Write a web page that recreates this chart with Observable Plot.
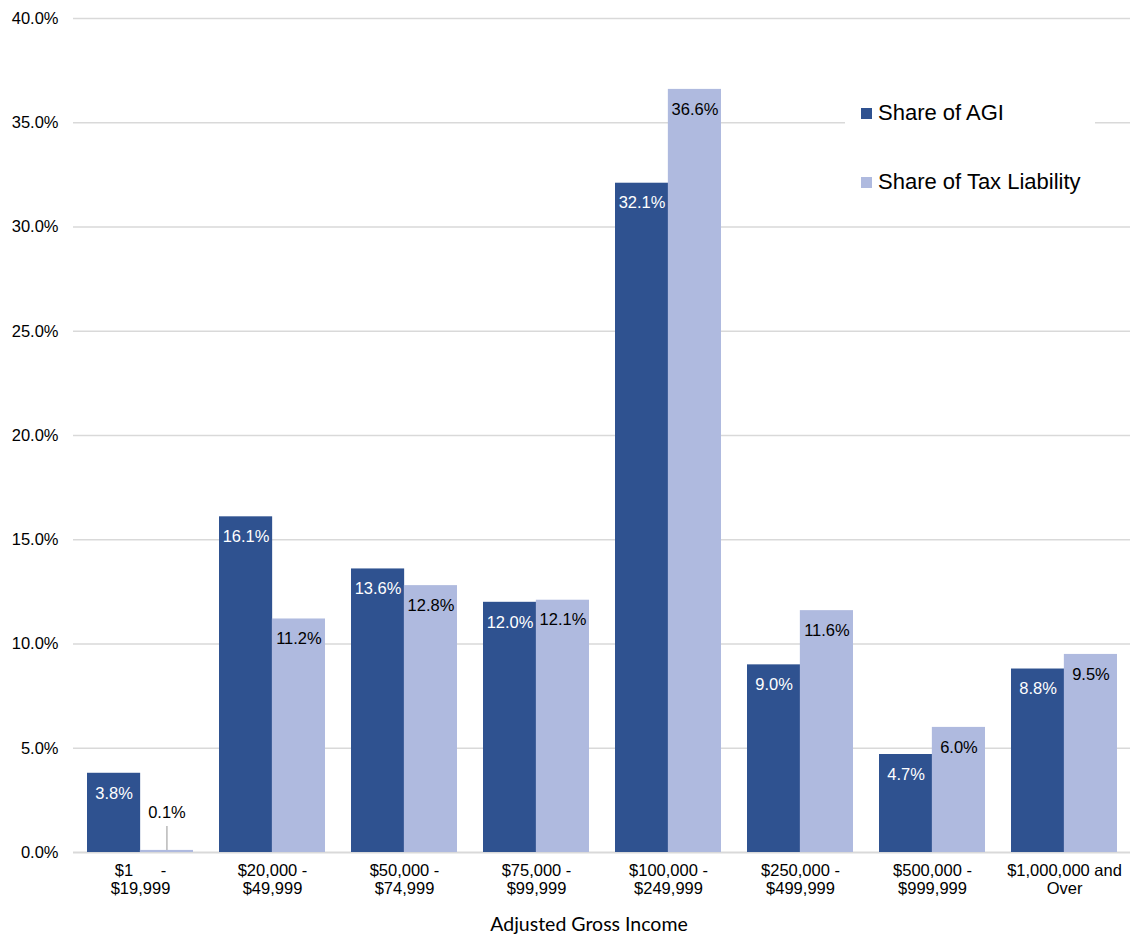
<!DOCTYPE html>
<html>
<head>
<meta charset="utf-8">
<script src="https://cdn.jsdelivr.net/npm/d3@7"></script>
<script src="https://cdn.jsdelivr.net/npm/@observablehq/plot@0.6"></script>
<style>
  body { margin: 0; background: #fff; font-family: "Liberation Sans", Arial, sans-serif; }
  #wrap { position: relative; width: 1135px; height: 934px; }
  #legend { position: absolute; left: 845px; top: 92px; width: 250px; height: 112px; background: #fff; }
  .item { position: absolute; left: 16px; font-size: 22px; color: #000; white-space: nowrap; }
  .sw { display: inline-block; width: 11px; height: 11px; margin-right: 6px; vertical-align: 1px; }
</style>
</head>
<body>
<div id="wrap"></div>
<script>
const categories = ["$1 - $19,999", "$20,000 - $49,999", "$50,000 - $74,999", "$75,000 - $99,999",
  "$100,000 - $249,999", "$250,000 - $499,999", "$500,000 - $999,999", "$1,000,000 and Over"];
const tickLabels = ["$1\u00a0\u00a0\u00a0\u00a0\u00a0\u00a0-\n$19,999", "$20,000 -\n$49,999", "$50,000 -\n$74,999",
  "$75,000 -\n$99,999", "$100,000 -\n$249,999", "$250,000 -\n$499,999", "$500,000 -\n$999,999", "$1,000,000 and\nOver"];
const shareAGI = [3.8, 16.1, 13.6, 12.0, 32.1, 9.0, 4.7, 8.8];
const shareTax = [0.1, 11.2, 12.8, 12.1, 36.6, 11.6, 6.0, 9.5];
const seriesNames = ["Share of AGI", "Share of Tax Liability"];
const yTicks = [0, 5, 10, 15, 20, 25, 30, 35, 40];
const colors = ["#2F5290", "#AFBADF"];

const data = categories.map((c, i) => ({cat: c, agi: shareAGI[i], tax: shareTax[i]}));
const fmt = v => v.toFixed(1) + "%";

const width = 1135, height = 934;
const mL = 73, mR = 5, mT = 18, mB = 82;
const pIn = 0.2, pOut = 0.1;
const step = (width - mL - mR) / (categories.length - pIn + 2 * pOut);
const band = step * (1 - pIn);

const chart = Plot.plot({
  width, height,
  marginLeft: mL, marginRight: mR, marginTop: mT, marginBottom: mB,
  style: {fontFamily: "'Liberation Sans', Arial, sans-serif", background: "#fff"},
  x: {domain: categories, paddingInner: pIn, paddingOuter: pOut, axis: null},
  y: {domain: [0, 40], axis: null},
  marks: [
    Plot.gridY(yTicks.filter(d => d > 0), {stroke: "#d9d9d9", strokeOpacity: 1, strokeWidth: 1.5}),
    Plot.ruleY([0], {stroke: "#d9d9d9", strokeWidth: 2}),
    Plot.axisY(yTicks, {tickSize: 0, tickPadding: 15, tickFormat: fmt, fontSize: 16.5, fill: "#000", label: null}),
    Plot.axisX({tickSize: 0, tickPadding: 10, fontSize: 16.5, fill: "#000", lineHeight: 1.12, label: null,
      tickFormat: d => tickLabels[categories.indexOf(d)]}),
    Plot.barY(data, {x: "cat", y: "agi", fill: colors[0], insetRight: band / 2}),
    Plot.barY(data, {x: "cat", y: "tax", fill: colors[1], insetLeft: band / 2}),
    Plot.text(data, {x: "cat", y: "agi", text: d => fmt(d.agi), dx: -band / 4, dy: 20, fill: "#fff", fontSize: 16.5}),
    Plot.text(data.filter(d => d.tax >= 1), {x: "cat", y: "tax", text: d => fmt(d.tax), dx: band / 4, dy: 20, fill: "#000", fontSize: 16.5}),
    Plot.ruleX(data.filter(d => d.tax < 1), {x: "cat", y1: "tax", y2: d => d.tax + 1.15, dx: band / 4, stroke: "#a6a6a6", strokeWidth: 1.2}),
    Plot.text(data.filter(d => d.tax < 1), {x: "cat", y: "tax", text: d => fmt(d.tax), dx: band / 4, dy: -38, fill: "#000", fontSize: 16.5}),
    Plot.text(["Adjusted Gross Income"], {frameAnchor: "bottom", dy: 78, dx: -13, text: d => d, fontFamily: "Lato, 'Open Sans', sans-serif", fontSize: 19.5, fill: "#000"})
  ]
});

const wrap = document.getElementById("wrap");
wrap.appendChild(chart);
const legend = document.createElement("div");
legend.id = "legend";
legend.innerHTML = seriesNames.map((n, i) =>
  `<div class="item" style="top:${8 + i * 69}px"><span class="sw" style="background:${colors[i]}"></span>${n}</div>`).join("");
wrap.appendChild(legend);
</script>
</body>
</html>
